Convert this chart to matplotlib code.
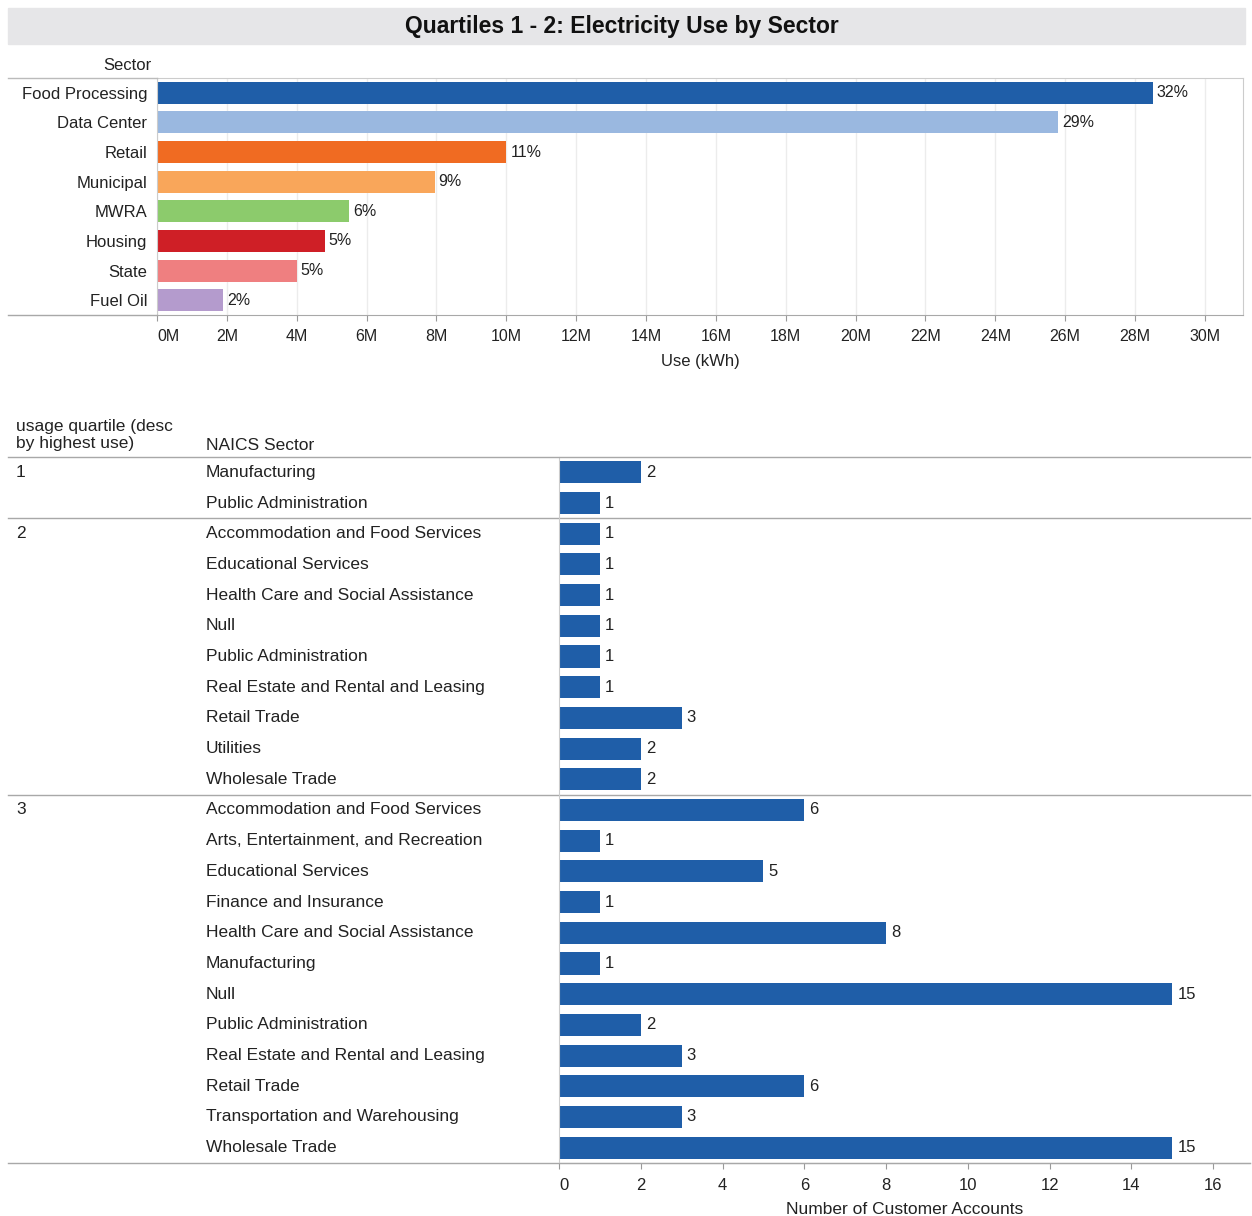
import matplotlib
matplotlib.use("Agg")
import matplotlib.pyplot as plt
from matplotlib.patches import Rectangle
from matplotlib.lines import Line2D
from matplotlib.transforms import blended_transform_factory
import numpy as np

plt.rcParams['font.family'] = ['Liberation Sans', 'DejaVu Sans']

# --- data: top panel (electricity use by sector, kWh) ---
sectors = ["Food Processing", "Data Center", "Retail", "Municipal",
           "MWRA", "Housing", "State", "Fuel Oil"]
use_kwh = [28.5e6, 25.8e6, 10.0e6, 7.95e6, 5.5e6, 4.8e6, 4.0e6, 1.9e6]
pct_labels = ["32%", "29%", "11%", "9%", "6%", "5%", "5%", "2%"]
sector_colors = ["#1f5ea8", "#9ab8e0", "#f06b22", "#f9a65a",
                 "#8ccb6c", "#cf1f26", "#ef7f80", "#b49bcd"]

# --- data: bottom panel (customer accounts by quartile / NAICS sector) ---
quartiles = ["1", "2", "3"]
q1_sectors = ["Manufacturing", "Public Administration"]
q1_counts = [2, 1]
q2_sectors = ["Accommodation and Food Services", "Educational Services",
              "Health Care and Social Assistance", "Null", "Public Administration",
              "Real Estate and Rental and Leasing", "Retail Trade", "Utilities",
              "Wholesale Trade"]
q2_counts = [1, 1, 1, 1, 1, 1, 3, 2, 2]
q3_sectors = ["Accommodation and Food Services", "Arts, Entertainment, and Recreation",
              "Educational Services", "Finance and Insurance",
              "Health Care and Social Assistance", "Manufacturing", "Null",
              "Public Administration", "Real Estate and Rental and Leasing",
              "Retail Trade", "Transportation and Warehousing", "Wholesale Trade"]
q3_counts = [6, 1, 5, 1, 8, 1, 15, 2, 3, 6, 3, 15]

W, H = 1252, 1216
fig = plt.figure(figsize=(W / 100, H / 100), dpi=100)

def fx(px):
    return px / W

def fy(py):
    return 1 - py / H

txt = "#222222"
line_c = "#a8a8a8"
blue = "#1f5ea8"

# title band
fig.patches.append(Rectangle((fx(8), fy(44)), fx(1245) - fx(8), fy(8) - fy(44),
                             transform=fig.transFigure, color="#e6e6e8", zorder=0))
fig.text(fx(622), fy(26), "Quartiles 1 - 2: Electricity Use by Sector",
         ha="center", va="center", fontsize=16.5, fontweight="bold", color="#111111")

# ---------------- top panel ----------------
ax1 = fig.add_axes([fx(157), fy(315), fx(1243) - fx(157), fy(78) - fy(315)])
y1 = np.arange(len(sectors))
ax1.barh(y1, use_kwh, height=0.74, color=sector_colors, zorder=2)
for yy, v, lab in zip(y1, use_kwh, pct_labels):
    ax1.annotate(lab, (v, yy), xytext=(4, 0), textcoords="offset pixels",
                 ha="left", va="center", fontsize=11.5, color=txt)
ax1.set_ylim(len(sectors) - 0.5, -0.5)
ax1.set_xlim(0, 31.09e6)
ticks1 = np.arange(0, 31e6, 2e6)
ax1.set_xticks(ticks1)
ax1.set_xticklabels([f"{int(t / 1e6)}M" for t in ticks1], fontsize=11.5, color=txt)
ax1.get_xticklabels()[0].set_ha("left")
ax1.set_yticks(y1)
ax1.set_yticklabels(sectors, fontsize=12, color=txt)
ax1.tick_params(axis="y", length=0, pad=7)
ax1.tick_params(axis="x", length=4, color="#999999", pad=6)
ax1.grid(axis="x", color="#ececec", lw=1)
ax1.set_axisbelow(True)
for s in ["top", "right", "left"]:
    ax1.spines[s].set_color("#cccccc")
ax1.spines["bottom"].set_color(line_c)
ax1.set_xlabel("Use (kWh)", fontsize=12, color=txt, labelpad=7)
fig.text(fx(152), fy(66), "Sector", ha="right", va="center", fontsize=12, color=txt)
fig.add_artist(Line2D([fx(8), fx(157)], [fy(78), fy(78)], color="#bbbbbb", lw=1))
fig.add_artist(Line2D([fx(8), fx(157)], [fy(315), fy(315)], color=line_c, lw=1))

# ---------------- bottom panel ----------------
groups = [(quartiles[0], q1_sectors, q1_counts),
          (quartiles[1], q2_sectors, q2_counts),
          (quartiles[2], q3_sectors, q3_counts)]
names = q1_sectors + q2_sectors + q3_sectors
counts = q1_counts + q2_counts + q3_counts
n = len(names)

ax2 = fig.add_axes([fx(559), fy(1163), fx(1250) - fx(559), fy(457) - fy(1163)])
y2 = np.arange(n)
ax2.barh(y2, counts, height=0.72, color=blue, zorder=2)
for yy, c in zip(y2, counts):
    ax2.annotate(str(c), (c, yy), xytext=(5, 0), textcoords="offset pixels",
                 ha="left", va="center", fontsize=12, color=txt)
ax2.set_ylim(n - 0.5, -0.5)
ax2.set_xlim(0, 16.9)
ax2.set_xticks(np.arange(0, 17, 2))
ax2.set_xticklabels([str(t) for t in range(0, 17, 2)], fontsize=12, color=txt)
ax2.get_xticklabels()[0].set_ha("left")
ax2.set_yticks([])
ax2.tick_params(axis="x", length=4, color="#999999", pad=7)
for s in ["top", "right"]:
    ax2.spines[s].set_visible(False)
ax2.spines["left"].set_color("#cccccc")
ax2.spines["bottom"].set_color(line_c)
ax2.set_xlabel("Number of Customer Accounts", fontsize=12.5, color=txt, labelpad=6)

tr = blended_transform_factory(fig.transFigure, ax2.transData)
row = 0
for q, secs, cnts in groups:
    ax2.text(fx(16), row, q, transform=tr, ha="left", va="center", fontsize=12.5, color=txt)
    for i, s in enumerate(secs):
        ax2.text(fx(206), row + i, s, transform=tr, ha="left", va="center",
                 fontsize=12.5, color=txt)
    row += len(secs)
    ax2.add_line(Line2D([fx(8), fx(1250)], [row - 0.5, row - 0.5], transform=tr,
                        color=line_c, lw=1, clip_on=False))

fig.add_artist(Line2D([fx(8), fx(1250)], [fy(457), fy(457)], color=line_c, lw=1))
fig.text(fx(16), fy(435), "usage quartile (desc\nby highest use)", ha="left",
         va="center", fontsize=12.5, color=txt, linespacing=1.2)
fig.text(fx(206), fy(445), "NAICS Sector", ha="left", va="center", fontsize=12.5, color=txt)

fig.savefig("out.png", dpi=100)
